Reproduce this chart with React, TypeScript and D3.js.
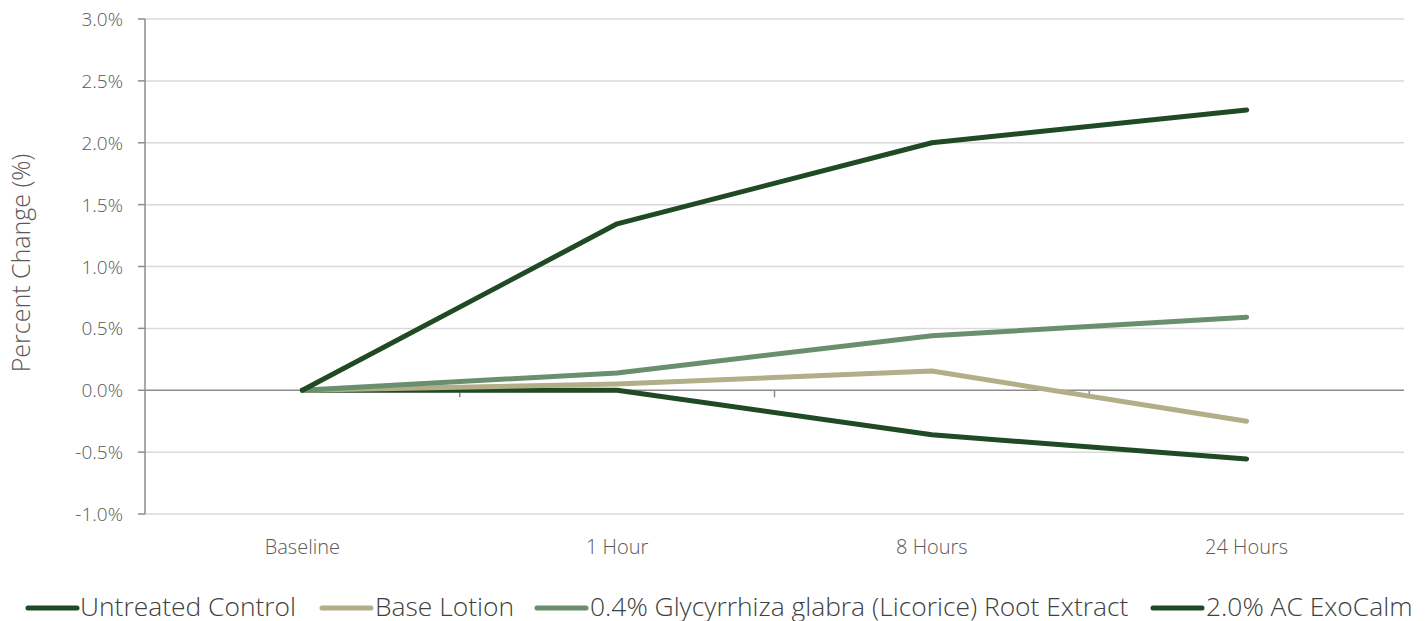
import React from "react";
import * as d3 from "d3";

const categories = ["Baseline", "1 Hour", "8 Hours", "24 Hours"];
const seriesNames = [
  "Untreated Control",
  "Base Lotion",
  "0.4% Glycyrrhiza glabra (Licorice) Root Extract",
  "2.0% AC ExoCalm",
];
const untreated = [0, 0.0, -0.36, -0.555];
const baseLotion = [0, 0.05, 0.155, -0.25];
const licorice = [0, 0.14, 0.44, 0.59];
const exoCalm = [0, 1.345, 2.0, 2.265];
const yTicks = [-1.0, -0.5, 0.0, 0.5, 1.0, 1.5, 2.0, 2.5, 3.0];
const colors = ["#1f4a24", "#b1ae88", "#6a8f6e", "#1f4a24"];

const W = 1427;
const H = 621;
const left = 145;
const right = 1404;
const top = 19;
const bottom = 514;
const font = "'Open Sans', sans-serif";

const fmt = (t: number) => t.toFixed(1) + "%";

export default function App() {
  const x = d3.scaleBand<string>().domain(categories).range([left, right]);
  const y = d3.scaleLinear().domain([-1, 3]).range([bottom, top]);
  const data = [untreated, baseLotion, licorice, exoCalm];
  const line = d3
    .line<number>()
    .x((_, i) => (x(categories[i]) as number) + x.bandwidth() / 2)
    .y((d) => y(d));

  const legendItems = [
    { lx: 28, tx: 80 },
    { lx: 322, tx: 375 },
    { lx: 537, tx: 590 },
    { lx: 1153, tx: 1206 },
  ];

  return (
    <svg width={W} height={H} style={{ position: "absolute", left: 0, top: 0, background: "#fff" }}>
      {yTicks.map((t) => (
        <g key={t}>
          {t !== 0 && (
            <line x1={left} x2={right} y1={y(t)} y2={y(t)} stroke="#d9d9d9" strokeWidth={1.5} />
          )}
          <line x1={left - 7} x2={left} y1={y(t)} y2={y(t)} stroke="#8c8c8c" strokeWidth={1.5} />
          <text
            x={left - 22}
            y={y(t) + 7}
            textAnchor="end"
            fontFamily={font}
            fontWeight={300}
            fontSize={19}
            fill="#595959"
          >
            {fmt(t)}
          </text>
        </g>
      ))}
      <line x1={left} x2={left} y1={top} y2={bottom} stroke="#8c8c8c" strokeWidth={1.5} />
      <line x1={left} x2={right} y1={y(0)} y2={y(0)} stroke="#8c8c8c" strokeWidth={1.5} />
      {categories.slice(1).map((c) => (
        <line
          key={c}
          x1={x(c) as number}
          x2={x(c) as number}
          y1={y(0)}
          y2={y(0) + 7}
          stroke="#8c8c8c"
          strokeWidth={1.5}
        />
      ))}
      {categories.map((c) => (
        <text
          key={c}
          x={(x(c) as number) + x.bandwidth() / 2}
          y={554}
          textAnchor="middle"
          fontFamily={font}
          fontWeight={300}
          fontSize={20}
          fill="#595959"
        >
          {c}
        </text>
      ))}
      <text
        transform={`translate(30, 263) rotate(-90)`}
        textAnchor="middle"
        fontFamily={font}
        fontWeight={300}
        fontSize={25}
        fill="#595959"
      >
        Percent Change (%)
      </text>
      {data.map((d, i) => (
        <path
          key={i}
          d={line(d) as string}
          fill="none"
          stroke={colors[i]}
          strokeWidth={5}
          strokeLinecap="round"
          strokeLinejoin="round"
        />
      ))}
      {seriesNames.map((name, i) => (
        <g key={name}>
          <line
            x1={legendItems[i].lx}
            x2={legendItems[i].lx + 49}
            y1={608}
            y2={608}
            stroke={colors[i]}
            strokeWidth={5}
            strokeLinecap="round"
          />
          <text
            x={legendItems[i].tx}
            y={616}
            fontFamily={font}
            fontWeight={300}
            fontSize={26.4}
            fill="#404040"
          >
            {name}
          </text>
        </g>
      ))}
    </svg>
  );
}
